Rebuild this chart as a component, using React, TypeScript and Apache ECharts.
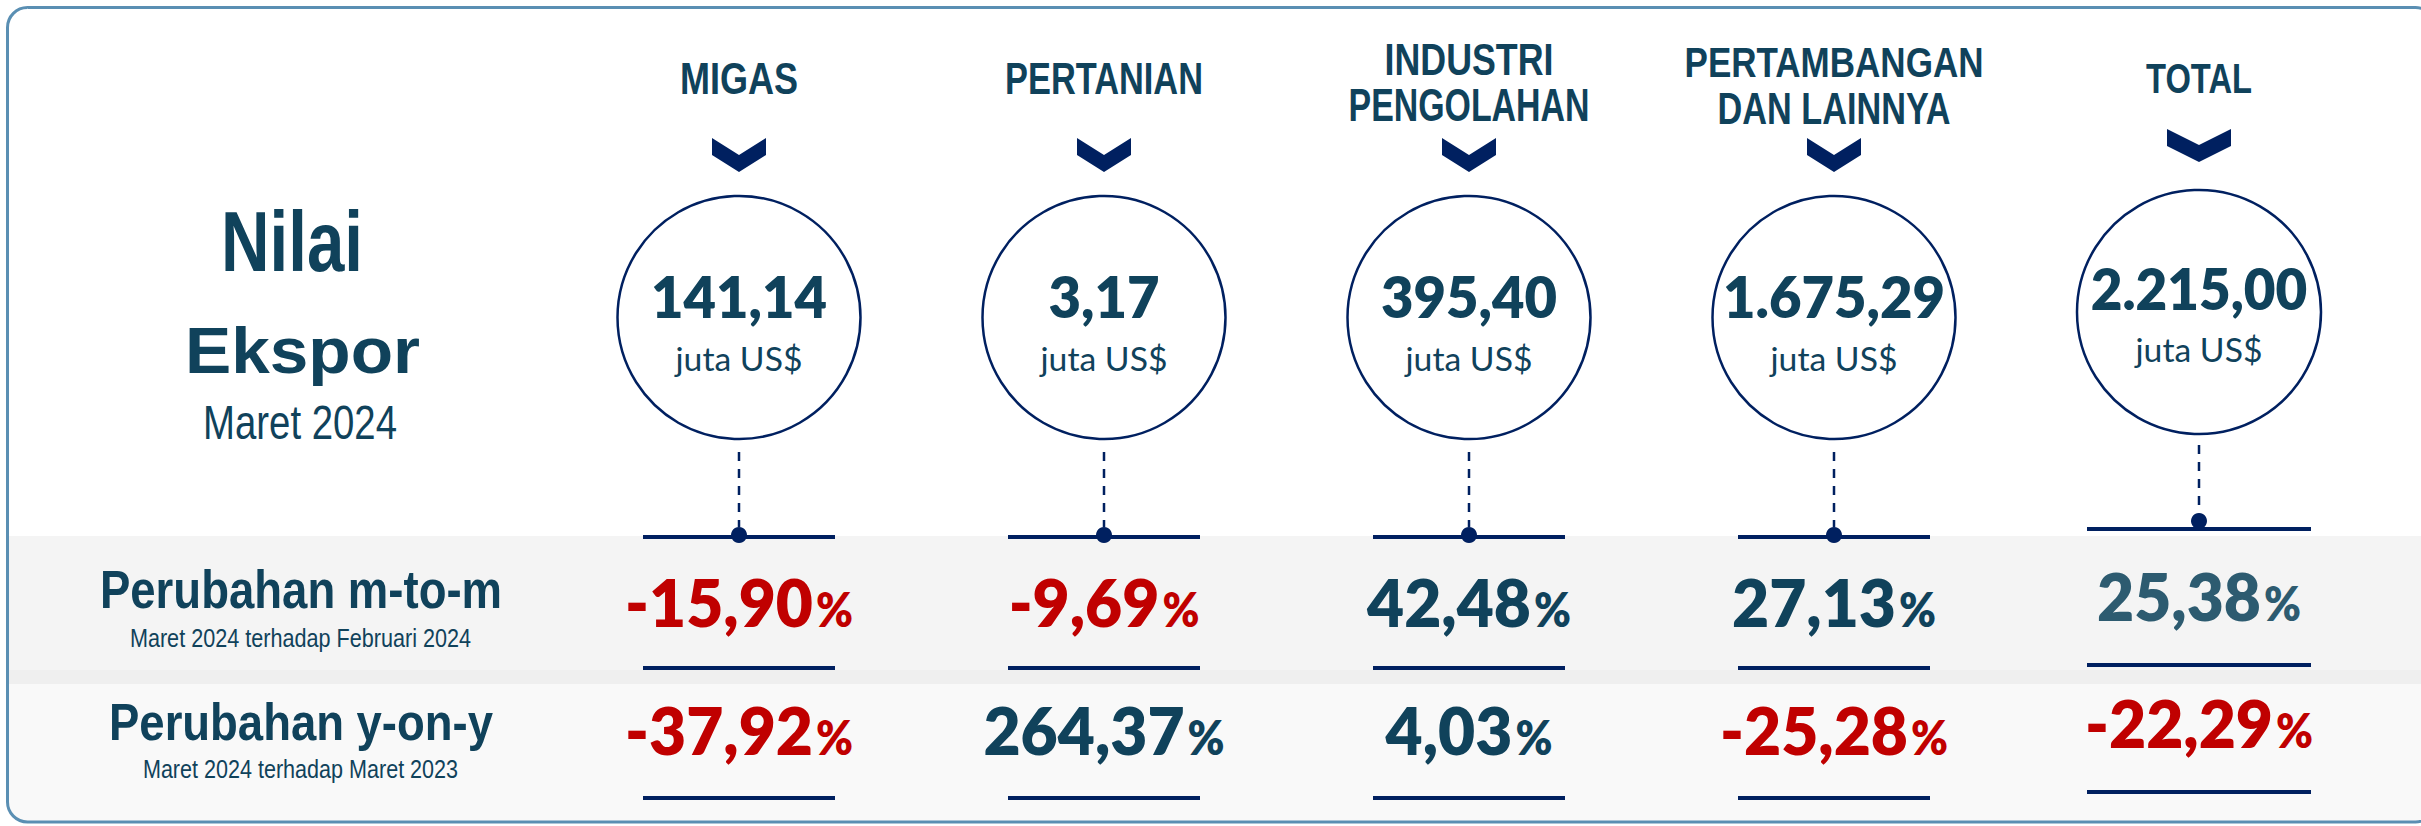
import React, { useEffect, useRef } from "react";
import * as echarts from "echarts";

// ---------- data ----------
const sectorLines: string[][] = [
  ["MIGAS"],
  ["PERTANIAN"],
  ["INDUSTRI", "PENGOLAHAN"],
  ["PERTAMBANGAN", "DAN LAINNYA"],
  ["TOTAL"],
];
const sectorNames = ["MIGAS", "PERTANIAN", "INDUSTRI PENGOLAHAN", "PERTAMBANGAN DAN LAINNYA", "TOTAL"];
const exportValues = [141.14, 3.17, 395.4, 1675.29, 2215.0];
const momChanges = [-15.9, -9.69, 42.48, 27.13, 25.38];
const yoyChanges = [-37.92, 264.37, 4.03, -25.28, -22.29];
const unitLabel = "juta US$";
const titleLines = ["Nilai", "Ekspor"];
const periodLabel = "Maret 2024";
const rowTitles = ["Perubahan m-to-m", "Perubahan y-on-y"];
const rowSubtitles = ["Maret 2024 terhadap Februari 2024", "Maret 2024 terhadap Maret 2023"];

// ---------- style / layout ----------
const W = 2421;
const H = 826;
const TEAL = "#10425b";
const TEAL_LIGHT = "#2d5b70";
const RED = "#c00000";
const NAVY = "#002060";
const BORDER = "#5a8fb3";
const NUM_WEIGHT = "800";

const LIB = { family: '"Liberation Sans", Arial, sans-serif', cap: 0.716, central: 0.3465 };
const LATO = { family: 'Lato, "Open Sans", sans-serif', cap: 0.7165, central: 0.387 };

// header lines: [capTop, baseline, width]
const headLayout: number[][][] = [
  [[62, 94, 118]],
  [[62, 94, 198]],
  [[43, 75, 169], [88, 121, 241]],
  [[47, 77, 299], [92, 124, 233]],
  [[62, 93, 106]],
];

const colLayout = (total: boolean) =>
  total
    ? {
        chev: { hw: 32, top: 129, notch: 145, side: 146, tip: 162 },
        circ: { cy: 312, r: 122 },
        num: [270, 310],
        unit: [339, 362],
        dash: [445, 513],
        dot: 521,
        half: 112,
        lines: [529, 665, 792],
        row1: [573, 621],
        row2: [700, 748],
      }
    : {
        chev: { hw: 27, top: 138, notch: 155, side: 155, tip: 172 },
        circ: { cy: 317.5, r: 121.5 },
        num: [277, 318],
        unit: [348, 371],
        dash: [452, 527],
        dot: 535,
        half: 96,
        lines: [537, 668, 798],
        row1: [579, 627],
        row2: [707, 755],
      };

let measureCtx: CanvasRenderingContext2D | null = null;
function measure(text: string, font: string): number {
  if (!measureCtx) measureCtx = document.createElement("canvas").getContext("2d");
  measureCtx!.font = font;
  return measureCtx!.measureText(text).width;
}

function fmt(v: number): string {
  const s = Math.abs(v).toFixed(2);
  const [i, d] = s.split(".");
  const ii = i.replace(/\B(?=(\d{3})+(?!\d))/g, ".");
  return (v < 0 ? "-" : "") + ii + "," + d;
}

function textEl(text: string, x: number, y: number, sx: number, fs: number, family: string, weight: string, color: string) {
  return {
    type: "text",
    x,
    y,
    scaleX: sx,
    silent: true,
    z: 20,
    style: {
      text,
      x: 0,
      y: 0,
      fontSize: fs,
      fontFamily: family,
      fontWeight: weight,
      fill: color,
      align: "center",
      verticalAlign: "middle",
      textAlign: "center",
      textVerticalAlign: "middle",
    },
  };
}

function txt(
  text: string,
  cx: number,
  capTop: number,
  base: number,
  width: number | null,
  font: { family: string; cap: number; central: number },
  weight: string,
  color: string
) {
  const fs = (base - capTop) / font.cap;
  const w = measure(text, `${weight} ${fs}px ${font.family}`);
  const sx = width ? width / w : 1;
  return textEl(text, cx, base - font.central * fs, sx, fs, font.family, weight, color);
}

function pctElements(v: number, cx: number, capTop: number, base: number, color: string) {
  const numFs = (base - capTop) / LATO.cap;
  const refFs = 48 / LATO.cap;
  const numScale = 164 / measure("27,13", `${NUM_WEIGHT} ${refFs}px ${LATO.family}`);
  const pctFs = 34 / LATO.cap;
  const pctScale = 37 / measure("%", `${NUM_WEIGHT} ${pctFs}px ${LATO.family}`);
  const s = fmt(v);
  const wNum = measure(s, `${NUM_WEIGHT} ${numFs}px ${LATO.family}`) * numScale;
  const wPct = measure("%", `${NUM_WEIGHT} ${pctFs}px ${LATO.family}`) * pctScale;
  const gap = 3;
  const total = wNum + gap + wPct;
  const start = cx - total / 2;
  return [
    textEl(s, start + wNum / 2, base - LATO.central * numFs, numScale, numFs, LATO.family, NUM_WEIGHT, color),
    textEl("%", start + wNum + gap + wPct / 2, base - LATO.central * pctFs, pctScale, pctFs, LATO.family, NUM_WEIGHT, color),
  ];
}

export default function App() {
  const ref = useRef<HTMLDivElement>(null);

  useEffect(() => {
    if (!ref.current) return;
    const chart = echarts.init(ref.current, null, { renderer: "svg", width: W, height: H });
    const bandW = 365;
    const left = 739 - bandW / 2;
    chart.setOption({
      animation: false,
      backgroundColor: "#ffffff",
      grid: { left, right: W - left - bandW * 5, top: 0, bottom: 0, show: false },
      xAxis: { type: "category", data: sectorNames, show: false, boundaryGap: true },
      yAxis: { type: "value", show: false, min: 0, max: 1 },
      series: [
        {
          type: "scatter",
          data: sectorNames.map((_, i) => [i, 0.5]),
          symbolSize: 0,
          silent: true,
          itemStyle: { opacity: 0 },
        },
      ],
    });

    const xs = sectorNames.map((_, i) => chart.convertToPixel({ xAxisIndex: 0 }, i) as number);

    const els: any[] = [];
    // card
    els.push({
      type: "rect",
      z: 0,
      silent: true,
      shape: { x: 7.5, y: 7.5, width: 2428, height: 814.5, r: 20 },
      style: { fill: "#ffffff" },
    });
    els.push({ type: "rect", z: 1, silent: true, shape: { x: 9, y: 536, width: W - 9, height: 134 }, style: { fill: "#f4f4f4" } });
    els.push({ type: "rect", z: 1, silent: true, shape: { x: 9, y: 670, width: W - 9, height: 14 }, style: { fill: "#efefef" } });
    els.push({
      type: "rect",
      z: 1,
      silent: true,
      shape: { x: 9, y: 684, width: W - 9, height: 137, r: [0, 0, 0, 18] },
      style: { fill: "#f9f9f9" },
    });
    els.push({
      type: "rect",
      z: 2,
      silent: true,
      shape: { x: 7.5, y: 7.5, width: 2428, height: 814.5, r: 20 },
      style: { fill: "none", stroke: BORDER, lineWidth: 3 },
    });

    // left column texts
    els.push(txt(titleLines[0], 292, 210, 271, 142, LIB, "bold", TEAL));
    els.push(txt(titleLines[1], 302.5, 326, 373, 235, LIB, "bold", TEAL));
    els.push(txt(periodLabel, 300, 404, 439, 194, LIB, "normal", TEAL));
    els.push(txt(rowTitles[0], 301, 570, 608, 402, LIB, "bold", TEAL));
    els.push(txt(rowSubtitles[0], 300.5, 629, 647, 341, LIB, "normal", TEAL));
    els.push(txt(rowTitles[1], 301, 703, 740, 384, LIB, "bold", TEAL));
    els.push(txt(rowSubtitles[1], 300.5, 760, 778, 315, LIB, "normal", TEAL));

    const circRefFs = 41 / LATO.cap;
    const circScale = 176 / measure("141,14", `${NUM_WEIGHT} ${circRefFs}px ${LATO.family}`);
    const unitRefFs = 23 / LATO.cap;
    const unitScale = 127 / measure(unitLabel, `normal ${unitRefFs}px ${LATO.family}`);

    sectorNames.forEach((_, i) => {
      const cx = xs[i];
      const isTotal = i === sectorNames.length - 1;
      const L = colLayout(isTotal);
      // header
      sectorLines[i].forEach((line, j) => {
        const [ct, b, w] = headLayout[i][j];
        els.push(txt(line, cx, ct, b, w, LIB, "bold", TEAL));
      });
      // chevron
      const c = L.chev;
      els.push({
        type: "polygon",
        z: 5,
        silent: true,
        shape: {
          points: [
            [cx - c.hw, c.top],
            [cx, c.notch],
            [cx + c.hw, c.top],
            [cx + c.hw, c.side],
            [cx, c.tip],
            [cx - c.hw, c.side],
          ],
        },
        style: { fill: NAVY },
      });
      // circle
      els.push({
        type: "circle",
        z: 5,
        silent: true,
        shape: { cx, cy: L.circ.cy, r: L.circ.r },
        style: { fill: "#ffffff", stroke: NAVY, lineWidth: 2.5 },
      });
      // value in circle
      const numFs = (L.num[1] - L.num[0]) / LATO.cap;
      els.push(textEl(fmt(exportValues[i]), cx, L.num[1] - LATO.central * numFs, circScale, numFs, LATO.family, NUM_WEIGHT, TEAL));
      const uFs = (L.unit[1] - L.unit[0]) / LATO.cap;
      els.push(textEl(unitLabel, cx, L.unit[1] - LATO.central * uFs, unitScale, uFs, LATO.family, "normal", TEAL));
      // dashed connector
      els.push({
        type: "line",
        z: 5,
        silent: true,
        shape: { x1: cx, y1: L.dash[0], x2: cx, y2: L.dash[1] },
        style: { stroke: NAVY, lineWidth: 2.5, lineDash: [9, 8] },
      });
      // horizontal lines
      L.lines.forEach((y) => {
        els.push({
          type: "line",
          z: 5,
          silent: true,
          shape: { x1: cx - L.half, y1: y, x2: cx + L.half, y2: y },
          style: { stroke: NAVY, lineWidth: 4 },
        });
      });
      // dot
      els.push({
        type: "circle",
        z: 6,
        silent: true,
        shape: { cx, cy: L.dot, r: 8 },
        style: { fill: NAVY },
      });
      // change values
      const m = momChanges[i];
      const y = yoyChanges[i];
      const mColor = m < 0 ? RED : isTotal ? TEAL_LIGHT : TEAL;
      const yColor = y < 0 ? RED : TEAL;
      els.push(...pctElements(m, cx, L.row1[0], L.row1[1], mColor));
      els.push(...pctElements(y, cx, L.row2[0], L.row2[1], yColor));
    });

    chart.setOption({ graphic: { elements: els } });

    return () => {
      chart.dispose();
    };
  }, []);

  return (
    <div
      ref={ref}
      style={{ position: "absolute", left: 0, top: 0, width: W, height: H, background: "#ffffff" }}
    />
  );
}
